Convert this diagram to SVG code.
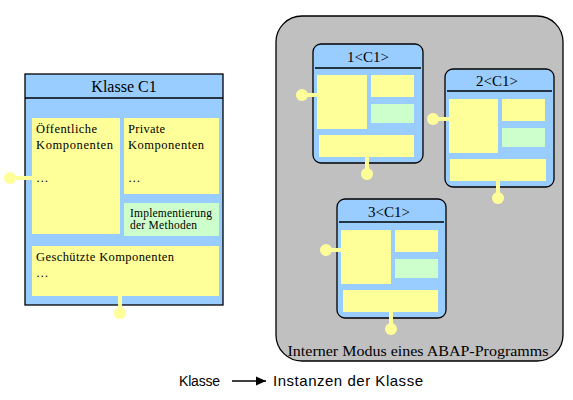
<svg xmlns="http://www.w3.org/2000/svg" width="573" height="400" viewBox="0 0 573 400">
<style>
.blue{fill:#99CCFF;stroke:#000;stroke-width:1.3}
.y{fill:#FFFF99}
.g{fill:#CCFFCC}
.sep{stroke:#000;stroke-width:1.3}
.t{font-family:"Liberation Serif","Times New Roman",serif;fill:#000}
.s{font-family:"Liberation Sans",Arial,sans-serif;fill:#000}
.con line{stroke:#FFFF99;stroke-width:4}
.con circle{fill:#FFFF99}
</style>
<defs>
<marker id="ah" markerWidth="10" markerHeight="10" refX="10" refY="5" orient="auto" markerUnits="userSpaceOnUse">
<path d="M0,0.5 L10,5 L0,9.5 Z" fill="#000"/>
</marker>
</defs>
<rect width="573" height="400" fill="#fff"/>
<g id="modus">
<rect x="276" y="16" width="287" height="345" rx="26" ry="26" fill="#C0C0C0" stroke="#000" stroke-width="1.3"/>
<text class="t" x="418" y="356" font-size="14" text-anchor="middle" textLength="261" lengthAdjust="spacingAndGlyphs">Interner Modus eines ABAP-Programms</text>
</g>
<g id="klasse">
<rect class="blue" x="25" y="74" width="198" height="231"/>
<line class="sep" x1="25" y1="98" x2="223" y2="98"/>
<text class="t" x="124" y="92" font-size="16" text-anchor="middle">Klasse C1</text>
<rect class="y" x="32" y="118" width="88" height="116"/>
<rect class="y" x="124" y="118" width="95" height="76"/>
<rect class="g" x="124" y="203" width="95" height="33"/>
<rect class="y" x="32" y="246" width="187" height="50"/>
<text class="t" font-size="12.5"><tspan x="36" y="133" textLength="61">Öffentliche</tspan><tspan x="36" y="149" textLength="77">Komponenten</tspan><tspan x="36" y="182">…</tspan></text>
<text class="t" font-size="12.5"><tspan x="128" y="133" textLength="37">Private</tspan><tspan x="128" y="149" textLength="76">Komponenten</tspan><tspan x="128" y="182">…</tspan></text>
<text class="t" font-size="11.5"><tspan x="130" y="217" textLength="82">Implementierung</tspan><tspan x="130" y="229" textLength="67">der Methoden</tspan></text>
<text class="t" font-size="12.5"><tspan x="36" y="261" textLength="138">Geschützte Komponenten</tspan><tspan x="36" y="277">…</tspan></text>
</g>
<g id="inst1">
<rect class="blue" x="313" y="44" width="110" height="119" rx="8" ry="8"/>
<line class="sep" x1="315" y1="68" x2="421" y2="68"/>
<text class="t" x="368" y="62" font-size="15" text-anchor="middle">1&lt;C1&gt;</text>
<rect class="y" x="317" y="75" width="50" height="54"/>
<rect class="y" x="371" y="75" width="43" height="22"/>
<rect class="g" x="371" y="104" width="43" height="19"/>
<rect class="y" x="319" y="135" width="95" height="22"/>
</g>
<g id="inst2">
<rect class="blue" x="445" y="69" width="109" height="118" rx="8" ry="8"/>
<line class="sep" x1="447" y1="91" x2="552" y2="91"/>
<text class="t" x="497" y="86" font-size="15" text-anchor="middle">2&lt;C1&gt;</text>
<rect class="y" x="449" y="99" width="49" height="54"/>
<rect class="y" x="502" y="99" width="43" height="22"/>
<rect class="g" x="502" y="128" width="43" height="19"/>
<rect class="y" x="450" y="159" width="96" height="22"/>
</g>
<g id="inst3">
<rect class="blue" x="337" y="199" width="109" height="119" rx="8" ry="8"/>
<line class="sep" x1="339" y1="222" x2="444" y2="222"/>
<text class="t" x="389" y="217" font-size="15" text-anchor="middle">3&lt;C1&gt;</text>
<rect class="y" x="341" y="230" width="50" height="54"/>
<rect class="y" x="395" y="230" width="43" height="22"/>
<rect class="g" x="395" y="259" width="43" height="19"/>
<rect class="y" x="343" y="290" width="95" height="22"/>
</g>
<g id="connectors" class="con">
<line x1="10" y1="178" x2="32" y2="178"/><circle cx="10" cy="178" r="6"/>
<line x1="120" y1="296" x2="120" y2="313"/><circle cx="120" cy="313" r="6"/>
<line x1="302" y1="95" x2="317" y2="95"/><circle cx="302" cy="95" r="6"/>
<line x1="367" y1="157" x2="367" y2="174"/><circle cx="367" cy="174" r="6"/>
<line x1="433" y1="119" x2="449" y2="119"/><circle cx="433" cy="119" r="6"/>
<line x1="498" y1="181" x2="498" y2="198"/><circle cx="498" cy="198" r="6"/>
<line x1="326" y1="250" x2="341" y2="250"/><circle cx="326" cy="250" r="6"/>
<line x1="391" y1="312" x2="391" y2="329"/><circle cx="391" cy="329" r="6"/>
</g>
<g id="legend">
<text class="s" x="179" y="386" font-size="14" textLength="41">Klasse</text>
<line x1="232" y1="381" x2="266" y2="381" stroke="#000" stroke-width="1.5" marker-end="url(#ah)"/>
<text class="s" x="273" y="386" font-size="15" textLength="150">Instanzen der Klasse</text>
</g>
</svg>
